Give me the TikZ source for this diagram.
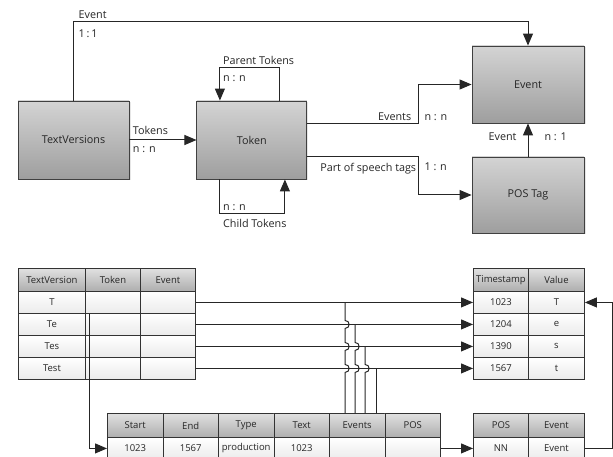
\documentclass[tikz,border=0pt]{standalone}
\usepackage{fontspec}
\setmainfont{Open Sans}
\usetikzlibrary{arrows.meta,positioning,calc,shadows}
\newcommand{\dgfont}{\fontsize{10.8}{12}\selectfont}
\newcommand{\cellfont}{\fontsize{9.5}{11}\selectfont}
\tikzset{
  entbox/.style={
    rectangle, draw=black!75, line width=0.9pt,
    top color=black!17, bottom color=black!38,
    minimum width=111, minimum height=78,
    font=\dgfont, text=black!85,
    drop shadow={opacity=0.2, shadow xshift=1.5pt, shadow yshift=-1.5pt}
  },
  headcell/.style={
    rectangle, draw=black!80, line width=0.9pt, anchor=north west,
    top color=black!12, bottom color=black!32,
    minimum height=23, inner sep=0pt, font=\cellfont, text=black!85
  },
  datacell/.style={headcell, top color=white, bottom color=black!8, minimum height=22},
  relline/.style={draw=black!85, line width=1pt},
  relarrow/.style={relline, -{Triangle[length=12pt,width=10pt]}},
  rellabel/.style={font=\dgfont, text=black!85, inner sep=3pt},
  lowlabel/.style={rellabel, yshift=-5pt},
  hop/.style 2 args={insert path={
    -- ($(#1 |- #2)+(0,4)$) .. controls +(5.5,0) and +(5.5,0) .. ($(#1 |- #2)+(0,-4)$)}},
}

\begin{document}
\begin{tikzpicture}[x=1pt, y=-1pt]
  \useasboundingbox (0,0) rectangle (613,457);
  \clip (0,0) rectangle (613,457);

  % entities
  \node[entbox] (textversions) at (73.5,140) {TextVersions};
  \node[entbox, minimum width=110, right=67pt of textversions] (token) {Token};
  \node[entbox, minimum width=112, minimum height=77] (event) at (528,84.5) {Event};
  \node[entbox, minimum width=112, minimum height=76] (postag) at (528,195) {POS Tag};

  % relations
  \draw[relarrow] (textversions.north) -- ++(0,-79) coordinate (tvup) -| (event.north);
  \node[rellabel, above right, xshift=2pt] at (tvup) {Event};
  \node[lowlabel, below right, xshift=2pt] at (tvup) {1\,:\,1};

  \draw[relarrow] (textversions.east) -- (token.west)
    node[rellabel, at start, above right, yshift=2pt] {Tokens}
    node[lowlabel, at start, below right, yshift=2pt] {n : n};

  \draw[relarrow] ($(token.north)+(28,0)$) -- ++(0,-33) -- ++(-60,0) coordinate (ptcorner)
    -- ($(token.north)+(-32,0)$);
  \node[rellabel, above right] at (ptcorner) {Parent Tokens};
  \node[lowlabel, below right] at (ptcorner) {n : n};

  \draw[relarrow] ($(token.south)+(-32,0)$) -- ++(0,34) coordinate (ctcorner) -- ++(65,0)
    -- ($(token.south)+(33,0)$);
  \node[rellabel, above right] at (ctcorner) {n : n};
  \node[lowlabel, below right, yshift=2pt] at (ctcorner) {Child Tokens};

  \draw[relarrow] ($(token.east)+(0,-16)$) -- ++(111,0) coordinate (evsbend) |- (event.west);
  \node[rellabel, above left, xshift=-4pt] at (evsbend) {Events};
  \node[rellabel, above right, xshift=3pt] at (evsbend) {n : n};

  \draw[relarrow] ($(token.east)+(0,17)$) -- ++(111,0) coordinate (posbend) |- (postag.west);
  \node[lowlabel, below left, xshift=1pt, yshift=2pt] at (posbend) {Part of speech tags};
  \node[lowlabel, below right, xshift=3pt, yshift=2pt] at (posbend) {1 : n};

  \draw[relarrow] (postag) -- (event)
    node[rellabel, midway, left=8pt, yshift=3pt] {Event}
    node[rellabel, midway, right=13pt, yshift=3pt] {n : 1};

  % tables
  \foreach \x/\w/\t [count=\c] in {18/67/TextVersion, 85/55/Token, 140/55/Event}
    \node[headcell, minimum width=\w] (tv-0-\c) at (\x,268) {\t};
  \foreach \t [count=\r] in {T,Te,Tes,Test} {
    \node[datacell, minimum width=67] (tv-\r-1) at (18,{291+22*(\r-1)}) {\t};
    \node[datacell, minimum width=55] (tv-\r-2) at (85,{291+22*(\r-1)}) {};
    \node[datacell, minimum width=55] (tv-\r-3) at (140,{291+22*(\r-1)}) {};
  }

  \node[headcell, minimum width=55] (ts-0-1) at (473,268) {Timestamp};
  \node[headcell, minimum width=56] (ts-0-2) at (528,268) {Value};
  \foreach \a/\b [count=\r] in {1023/T, 1204/e, 1390/s, 1567/t} {
    \node[datacell, minimum width=55] (ts-\r-1) at (473,{291+22*(\r-1)}) {\a};
    \node[datacell, minimum width=56] (ts-\r-2) at (528,{291+22*(\r-1)}) {\b};
  }

  \foreach \h/\v [count=\c] in {Start/1023, End/1567, Type/production, Text/1023, Events/{}, POS/{}} {
    \node[headcell, minimum width=55.5, minimum height=24] (tk-0-\c) at ({107+55.5*(\c-1)},413) {\h};
    \node[datacell, minimum width=55.5] (tk-1-\c) at ({107+55.5*(\c-1)},437) {\v};
  }

  \node[headcell, minimum width=55, minimum height=24] (pe-0-1) at (473,413) {POS};
  \node[headcell, minimum width=56, minimum height=24] (pe-0-2) at (528,413) {Event};
  \node[datacell, minimum width=55] (pe-1-1) at (473,437) {NN};
  \node[datacell, minimum width=56] (pe-1-2) at (528,437) {Event};

  % table links
  \foreach \r in {1,...,4}
    \draw[relarrow] (tv-\r-3.east) -- (ts-\r-1.west);

  \coordinate (ev1) at ($(tk-0-5.north west)+(16,0)$);
  \coordinate (ev2) at ($(tk-0-5.north west)+(26,0)$);
  \coordinate (ev3) at ($(tk-0-5.north west)+(36,0)$);
  \coordinate (ev4) at ($(tk-0-5.north west)+(47,0)$);
  \draw[relline] (ev1) [hop={ev1}{tv-4-3.east}] [hop={ev1}{tv-3-3.east}] [hop={ev1}{tv-2-3.east}]
    -- (ev1 |- tv-1-3.east);
  \draw[relline] (ev2) [hop={ev2}{tv-4-3.east}] [hop={ev2}{tv-3-3.east}] -- (ev2 |- tv-2-3.east);
  \draw[relline] (ev3) [hop={ev3}{tv-4-3.east}] -- (ev3 |- tv-3-3.east);
  \draw[relline] (ev4) -- (ev4 |- tv-4-3.east);

  \draw[relarrow] ($(tv-1-2.south west)+(4,0)$) |- (tk-1-1.west);
  \draw[relarrow] (tk-1-6.east) -- (pe-1-1.west);
  \draw[relarrow] (pe-1-2.east) -- ++(28,0) |- (ts-1-2.east);
\end{tikzpicture}
\end{document}
